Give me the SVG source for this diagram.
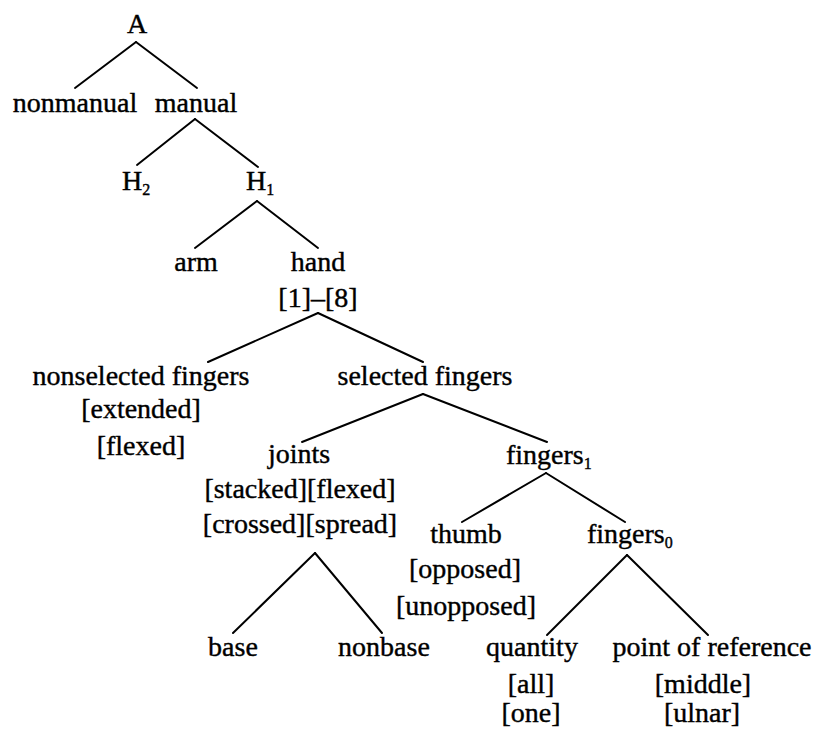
<svg xmlns="http://www.w3.org/2000/svg" width="814" height="730" viewBox="0 0 814 730">
<style>
text{font-family:"Liberation Serif","Times New Roman",serif;font-size:28px;fill:#000;stroke:#000;stroke-width:0.4}
.m{text-anchor:middle}
.sub{font-size:16px}
#edges line{stroke:#000;stroke-width:2;stroke-linecap:round}
</style>
<rect width="814" height="730" fill="#fff"/>
<g id="edges">
<line x1="136" y1="42" x2="75" y2="88"/>
<line x1="136" y1="42" x2="197" y2="88"/>
<line x1="195" y1="119" x2="137" y2="165"/>
<line x1="195" y1="119" x2="258" y2="167"/>
<line x1="257" y1="201" x2="195" y2="248"/>
<line x1="257" y1="201" x2="318" y2="248"/>
<line x1="318" y1="313" x2="208" y2="362"/>
<line x1="318" y1="313" x2="423" y2="362"/>
<line x1="423" y1="394" x2="302" y2="442"/>
<line x1="423" y1="394" x2="547" y2="442"/>
<line x1="546" y1="473" x2="462" y2="522"/>
<line x1="546" y1="473" x2="625" y2="522"/>
<line x1="315" y1="553" x2="233" y2="633"/>
<line x1="315" y1="553" x2="382" y2="633"/>
<line x1="627" y1="555" x2="547" y2="635"/>
<line x1="627" y1="555" x2="708" y2="635"/>
</g>
<g id="n-A"><text class="m" x="137" y="33">A</text></g>
<g id="n-nonmanual"><text class="m" x="75" y="112">nonmanual</text></g>
<g id="n-manual"><text class="m" x="196" y="112">manual</text></g>
<g id="n-H2"><text x="122" y="190">H<tspan class="sub" dy="5">2</tspan></text></g>
<g id="n-H1"><text x="246" y="190">H<tspan class="sub" dy="5">1</tspan></text></g>
<g id="n-arm"><text class="m" x="196" y="271">arm</text></g>
<g id="n-hand"><text class="m" x="318" y="271">hand</text><text class="m" x="318" y="307">[1]–[8]</text></g>
<g id="n-nonselected"><text class="m" x="141" y="385">nonselected fingers</text><text class="m" x="141" y="418">[extended]</text><text class="m" x="141" y="455">[flexed]</text></g>
<g id="n-selected"><text class="m" x="425" y="385">selected fingers</text></g>
<g id="n-joints"><text class="m" x="299" y="463">joints</text><text class="m" x="300" y="498">[stacked][flexed]</text><text class="m" x="300" y="533">[crossed][spread]</text></g>
<g id="n-fingers1"><text x="506" y="464">fingers<tspan class="sub" dy="5">1</tspan></text></g>
<g id="n-thumb"><text class="m" x="466" y="543">thumb</text><text class="m" x="465" y="578">[opposed]</text><text class="m" x="466" y="615">[unopposed]</text></g>
<g id="n-fingers0"><text x="587" y="543">fingers<tspan class="sub" dy="5">0</tspan></text></g>
<g id="n-base"><text class="m" x="233" y="656">base</text></g>
<g id="n-nonbase"><text class="m" x="384" y="656">nonbase</text></g>
<g id="n-quantity"><text class="m" x="532" y="656">quantity</text><text class="m" x="531" y="693">[all]</text><text class="m" x="531" y="722">[one]</text></g>
<g id="n-por"><text class="m" x="712" y="656">point of reference</text><text class="m" x="703" y="693">[middle]</text><text class="m" x="702" y="722">[ulnar]</text></g>
</svg>
